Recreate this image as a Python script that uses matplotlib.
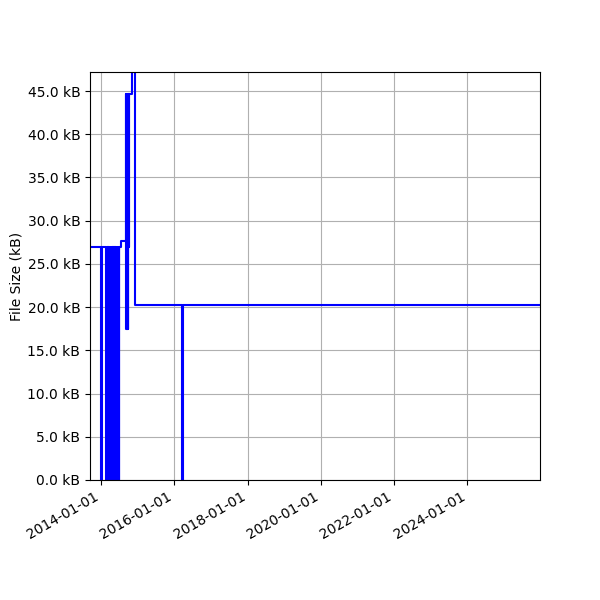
import pandas as pd
import matplotlib
matplotlib.use("Agg")
import matplotlib.pyplot as plt
import matplotlib.dates as mdates
from matplotlib.ticker import FuncFormatter, MultipleLocator

# fechas de cada cambio de tamaño y tamaño en kB
dates = [
    "2013-09-13", "2013-12-29", "2014-01-08", "2014-02-17", "2014-02-26",
    "2014-03-09", "2014-03-13", "2014-03-17", "2014-03-22", "2014-03-26",
    "2014-03-31", "2014-04-04", "2014-04-08", "2014-04-12", "2014-04-17",
    "2014-04-21", "2014-04-25", "2014-04-30", "2014-05-04", "2014-05-08",
    "2014-05-13", "2014-05-17", "2014-05-21", "2014-05-26", "2014-05-30",
    "2014-06-03", "2014-06-08", "2014-06-12", "2014-06-16", "2014-06-21",
    "2014-06-25", "2014-06-29", "2014-07-03", "2014-07-22", "2014-09-08",
    "2014-09-10", "2014-09-12", "2014-09-14", "2014-09-17", "2014-09-19",
    "2014-09-22", "2014-09-24", "2014-09-27", "2014-10-03", "2014-10-07",
    "2014-11-07", "2014-12-10", "2016-03-22", "2016-03-31", "2025-12-25",
]
sizes_kb = [
    27.0, 0.0, 27.0, 0.0, 27.0,
    0.0, 27.0, 0.0, 27.0, 0.0,
    27.0, 0.0, 27.0, 0.0, 27.0,
    0.0, 27.0, 0.0, 27.0, 0.0,
    27.0, 0.0, 27.0, 0.0, 27.0,
    0.0, 27.0, 0.0, 27.0, 0.0,
    27.0, 0.0, 27.0, 27.6, 44.6,
    17.5, 44.6, 17.5, 44.6, 17.5,
    44.6, 17.5, 44.6, 27.0, 44.7,
    52.0, 20.3, 0.0, 20.3, 20.3,
]

t = pd.to_datetime(dates)

fig, ax = plt.subplots(figsize=(6, 6), dpi=100)
ax.step(t, sizes_kb, where='post', color='blue', linewidth=1.5)
ax.set_ylabel('File Size (kB)', labelpad=2.5)
ax.yaxis.set_major_locator(MultipleLocator(5))
ax.yaxis.set_major_formatter(FuncFormatter(lambda v, p: f'{v:.1f} kB'))
ax.xaxis.set_major_locator(mdates.YearLocator(2))
ax.xaxis.set_major_formatter(mdates.DateFormatter('%Y-%m-%d'))
ax.set_xlim(pd.Timestamp("2013-09-13"), pd.Timestamp("2025-12-25"))
ax.set_ylim(0, 47.2)
ax.grid(True)
fig.autofmt_xdate()
fig.subplots_adjust(left=0.15, right=0.9, top=0.88, bottom=0.2)
fig.savefig('out.png')
